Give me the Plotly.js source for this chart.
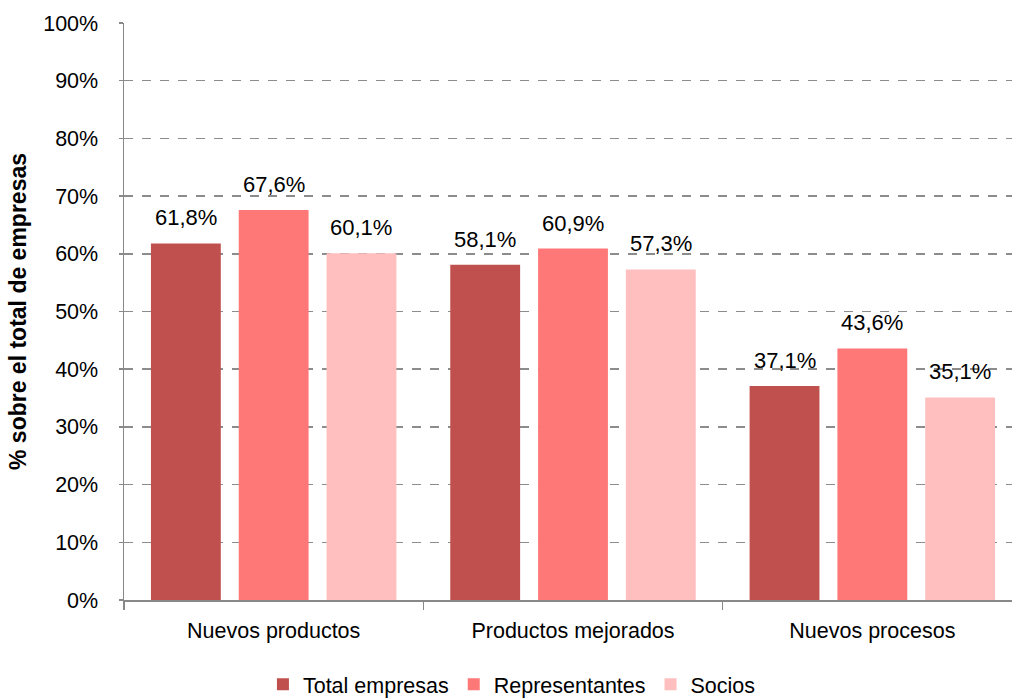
<!DOCTYPE html>
<html>
<head>
<meta charset="utf-8">
<script src="https://cdn.plot.ly/plotly-3.0.1.min.js"></script>
<style>
html, body { margin: 0; padding: 0; overflow: hidden; background: #fff; }
#chart { width: 1032px; height: 699px; }
</style>
</head>
<body>
<div id="chart"></div>
<script>
const categories = ["Nuevos productos", "Productos mejorados", "Nuevos procesos"];
const seriesNames = ["Total empresas", "Representantes", "Socios"];
const totalEmpresas = [61.8, 58.1, 37.1];
const representantes = [67.6, 60.9, 43.6];
const socios = [60.1, 57.3, 35.1];
const yTickVals = [0, 10, 20, 30, 40, 50, 60, 70, 80, 90, 100];
const yTickText = ["0%", "10%", "20%", "30%", "40%", "50%", "60%", "70%", "80%", "90%", "100%"];

const colors = ["#C0504D", "#FF7878", "#FFBFBF"];
const allSeries = [totalEmpresas, representantes, socios];
const FONT = '"Liberation Sans", Arial, sans-serif';
const FS = 21.5;

const bargap = 0.12, bargroupgap = 0.2045;

const traces = allSeries.map((vals, j) => ({
  type: 'bar',
  name: seriesNames[j],
  x: categories,
  y: vals,
  marker: { color: colors[j] },
  hoverinfo: 'skip'
}));

// labels over bars
const slot = (1 - bargap) / allSeries.length;
const annotations = [];
allSeries.forEach((vals, j) => {
  vals.forEach((v, i) => {
    annotations.push({
      xref: 'x', yref: 'y',
      x: i + (j - (allSeries.length - 1) / 2) * slot,
      y: v,
      text: v.toFixed(1).replace('.', ',') + '%',
      showarrow: false,
      yanchor: 'bottom',
      yshift: 11,
      font: { family: FONT, size: 22, color: '#000' }
    });
  });
});

const layout = {
  width: 1032, height: 699,
  margin: { l: 124, r: 10, t: 23, b: 99, autoexpand: false },
  paper_bgcolor: '#fff', plot_bgcolor: '#fff',
  barmode: 'group',
  bargap: bargap,
  bargroupgap: bargroupgap,
  showlegend: true,
  legend: {
    orientation: 'h', x: 0.432, xanchor: 'center', y: -0.146, yanchor: 'middle',
    font: { family: FONT, size: FS, color: '#000' },
    itemwidth: 30, tracegroupgap: 0
  },
  xaxis: {
    type: 'category',
    automargin: false,
    tickson: 'boundaries',
    ticks: 'outside', ticklen: 8, tickcolor: '#888', tickwidth: 1.5,
    showline: true, linecolor: '#888', linewidth: 1.5,
    showgrid: false,
    tickfont: { family: FONT, size: FS, color: '#000' },
    ticklabelstandoff: 11,
    fixedrange: true
  },
  yaxis: {
    automargin: false,
    range: [0, 100],
    tickvals: yTickVals, ticktext: yTickText,
    ticks: 'outside', ticklen: 4, tickcolor: '#888', tickwidth: 1.5,
    showline: true, linecolor: '#888', linewidth: 1.5,
    showgrid: true, gridcolor: '#8c8c8c', griddash: 'dash', gridwidth: 1.5,
    zeroline: false,
    tickfont: { family: FONT, size: FS, color: '#000' },
    ticklabelstandoff: 16,
    title: { text: '<b>% sobre el total de empresas</b>', font: { family: FONT, size: 23, color: '#000' }, standoff: 10 },
    fixedrange: true
  },
  annotations: annotations
};

Plotly.newPlot('chart', traces, layout, { displayModeBar: false, staticPlot: true });
</script>
</body>
</html>
